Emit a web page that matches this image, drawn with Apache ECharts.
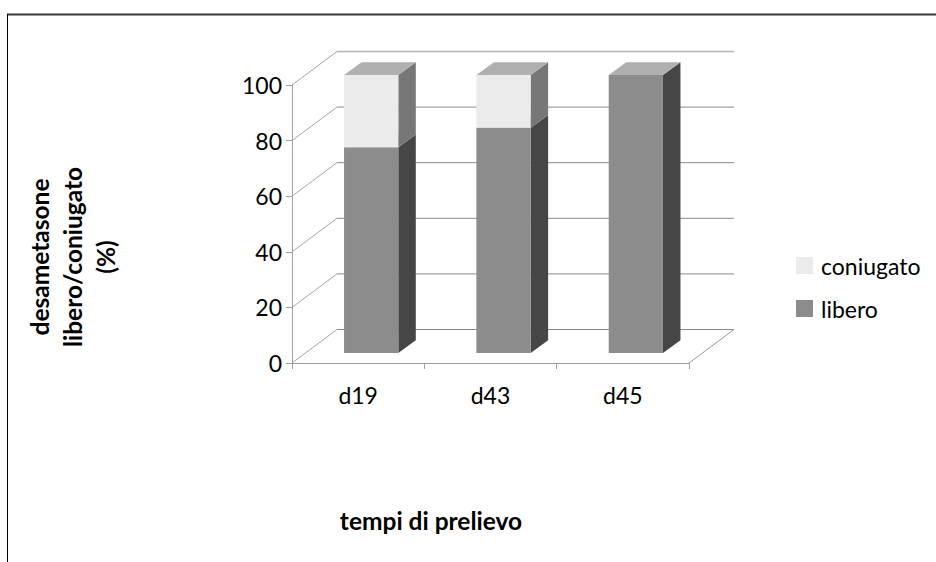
<!DOCTYPE html>
<html>
<head>
<meta charset="utf-8">
<script src="https://cdn.jsdelivr.net/npm/echarts@6/dist/echarts.min.js"></script>
<style>html,body{margin:0;padding:0;background:#fff}#c{width:936px;height:562px}</style>
</head>
<body>
<div id="c"></div>
<script>
var categories = ['d19', 'd43', 'd45'];
var libero = [74, 81, 100];
var coniugato = [26, 19, 0];
var yTicks = [0, 20, 40, 60, 80, 100];

var FONT = 'Lato';
var WALL = [45, -33.5];     // depth of the 3D box (px)
var BAR_FRONT = [13, -10];  // offset of bar front face
var BAR_DEPTH = [17.5, -12.7];

function wallItem(params, api) {
  var cs = params.coordSys;
  var v = api.value(1);
  var y = api.coord([0, v])[1];
  var x0 = cs.x, x1 = cs.x + cs.width;
  var children = [
    {type: 'line', shape: {x1: x0, y1: y, x2: x0 + WALL[0], y2: y + WALL[1]}, style: {stroke: '#a6a6a6', lineWidth: 1}},
    {type: 'line', shape: {x1: x0 + WALL[0], y1: y + WALL[1], x2: x1 + WALL[0], y2: y + WALL[1]},
     style: {stroke: v === 100 ? '#b4b4b4' : '#8a8a8a', lineWidth: v === 100 ? 1.5 : 1}}
  ];
  if (v === 0) {
    children.push({type: 'line', shape: {x1: x1, y1: y, x2: x1 + WALL[0], y2: y + WALL[1]}, style: {stroke: '#9a9a9a', lineWidth: 1}});
  }
  return {type: 'group', children: children};
}

function makeBar(frontColor, sideColor, topColor) {
  return function (params, api) {
    var c = api.value(0), lo = api.value(1), hi = api.value(2);
    if (hi - lo <= 0) return null;
    var pLo = api.coord([c, lo]);
    var pHi = api.coord([c, hi]);
    var w = api.size([1, 0])[0] * 0.41;
    var xl = pLo[0] - w / 2 + BAR_FRONT[0];
    var xr = pLo[0] + w / 2 + BAR_FRONT[0];
    var yb = pLo[1] + BAR_FRONT[1];
    var yt = pHi[1] + BAR_FRONT[1];
    var dx = BAR_DEPTH[0], dy = BAR_DEPTH[1];
    return {
      type: 'group',
      children: [
        {type: 'polygon', shape: {points: [[xr, yb], [xr + dx, yb + dy], [xr + dx, yt + dy], [xr, yt]]}, style: {fill: sideColor}},
        {type: 'polygon', shape: {points: [[xl, yt], [xr, yt], [xr + dx, yt + dy], [xl + dx, yt + dy]]}, style: {fill: topColor}},
        {type: 'rect', shape: {x: xl, y: yt, width: xr - xl, height: yb - yt}, style: {fill: frontColor}}
      ]
    };
  };
}

var chart = echarts.init(document.getElementById('c'), null, {renderer: 'svg'});
chart.setOption({
  backgroundColor: '#ffffff',
  animation: false,
  grid: {left: 292, top: 85, width: 397, height: 278, containLabel: false},
  xAxis: {
    type: 'category',
    data: categories,
    boundaryGap: true,
    axisLine: {lineStyle: {color: '#a0a0a0', width: 1}},
    axisTick: {show: true, length: 6, alignWithLabel: false, lineStyle: {color: '#a0a0a0'}},
    axisLabel: {color: '#000', fontFamily: FONT, fontSize: 23, margin: 20}
  },
  yAxis: {
    type: 'value',
    min: 0, max: 100, interval: 20,
    axisLine: {show: true, lineStyle: {color: '#a0a0a0', width: 1}},
    axisTick: {show: true, length: 6, lineStyle: {color: '#a0a0a0'}},
    splitLine: {show: false},
    axisLabel: {color: '#000', fontFamily: FONT, fontSize: 23, margin: 10}
  },
  legend: {
    orient: 'vertical',
    left: 791, top: 249,
    data: ['coniugato', 'libero'],
    icon: 'rect',
    itemWidth: 17, itemHeight: 17,
    itemGap: 20,
    textStyle: {color: '#000', fontFamily: FONT, fontSize: 23, padding: [0, 0, 0, 3]}
  },
  series: [
    {
      name: 'wall', type: 'custom', z: 1, silent: true,
      data: yTicks.map(function (v) { return [0, v]; }),
      encode: {x: 0, y: 1},
      renderItem: wallItem
    },
    {
      name: 'libero', type: 'custom', z: 2,
      itemStyle: {color: '#8c8c8c'},
      data: categories.map(function (c, i) { return [i, 0, libero[i]]; }),
      encode: {x: 0, y: [1, 2]},
      renderItem: makeBar('#8c8c8c', '#464646', '#b0b0b0')
    },
    {
      name: 'coniugato', type: 'custom', z: 3,
      itemStyle: {color: '#ebebeb'},
      data: categories.map(function (c, i) { return [i, libero[i], libero[i] + coniugato[i]]; }),
      encode: {x: 0, y: [1, 2]},
      renderItem: makeBar('#ebebeb', '#777777', '#b0b0b0')
    }
  ],
  graphic: [
    {type: 'line', shape: {x1: 7, y1: 14.5, x2: 936, y2: 14.5}, style: {stroke: '#3a3a3a', lineWidth: 2}, silent: true},
    {type: 'line', shape: {x1: 7.5, y1: 14, x2: 7.5, y2: 562}, style: {stroke: '#000', lineWidth: 1}, silent: true},
    {type: 'text', x: 431, y: 520, style: {text: 'tempi di prelievo', fill: '#000', font: 'bold 24.5px Lato', textAlign: 'center', textVerticalAlign: 'middle'}, silent: true},
    {type: 'text', x: 72, y: 257, rotation: Math.PI / 2,
     style: {text: 'desametasone\nlibero/coniugato\n(%)', fill: '#000', font: 'bold 24.5px Lato', textAlign: 'center', textVerticalAlign: 'middle', lineHeight: 33}, silent: true}
  ]
});
</script>
</body>
</html>
